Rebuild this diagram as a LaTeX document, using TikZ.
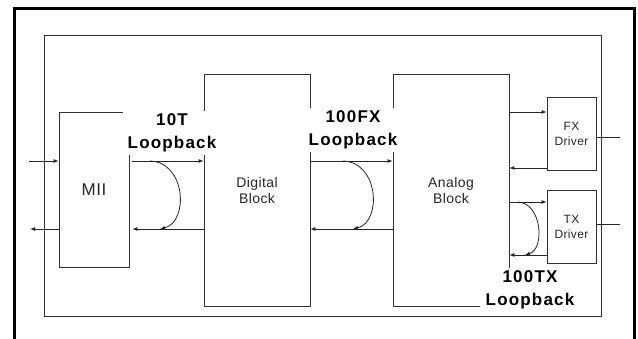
\documentclass[tikz,border=0pt]{standalone}
\usepackage{fontspec}
\setmainfont{Liberation Sans}
\newfontfamily\loopfont{Liberation Sans}[LetterSpace=7]
\newfontfamily\blockfont{Liberation Sans}[LetterSpace=3]
\usetikzlibrary{arrows.meta}

\tikzset{
  blk/.style={draw=black!80, line width=0.8pt, inner sep=0pt, align=center, text=black!85},
  sig/.style={draw=black!85, line width=0.8pt, -{Latex[length=5pt,width=4pt]}},
  loopnote/.style={fill=white, inner xsep=5pt, inner ysep=3pt, align=center,
    font=\loopfont\bfseries\fontsize{17}{23}\selectfont}
}

\begin{document}
\begin{tikzpicture}[x=1pt,y=-1pt]
\useasboundingbox (0,0) rectangle (638,339);

% frames
\draw[line width=3pt] (14.5,339) -- (14.5,8.5) -- (634.5,8.5) -- (634.5,339);
\draw[black!80,line width=0.8pt] (44,35) rectangle (601,316);

% blocks
\node[blk,minimum width=70pt,minimum height=155pt,font=\blockfont\fontsize{17}{20}\selectfont] (mii) at (94,190) {MII};
\node[blk,minimum width=106pt,minimum height=232pt,font=\blockfont\fontsize{14}{16}\selectfont] (dig) at (257,190) {Digital\\Block};
\node[blk,minimum width=116pt,minimum height=232pt,font=\blockfont\fontsize{14}{16}\selectfont] (ana) at (451,190) {Analog\\Block};
\node[blk,minimum width=49pt,minimum height=73pt,font=\blockfont\fontsize{12}{15}\selectfont] (fx) at (571.5,133.5) {FX\\Driver};
\node[blk,minimum width=49pt,minimum height=73pt,font=\blockfont\fontsize{12}{15}\selectfont] (tx) at (571.5,226.5) {TX\\Driver};

% free ends
\coordinate (rxin) at (29,161);
\coordinate (txout) at (30,229);
\coordinate (fxline) at (620,137);
\coordinate (txline) at (620,224);

% signal paths
\draw[sig] (rxin) -- (mii.west |- rxin);
\draw[sig] (mii.west |- txout) -- (txout);
\draw[sig,shorten <=3pt] (mii.east |- 0,161) -- (dig.west |- 0,161);
\draw[sig,shorten >=3pt] (dig.west |- 0,229) -- (mii.east |- 0,229);
\draw[sig] (dig.east |- 0,161) -- (ana.west |- 0,161);
\draw[sig] (ana.west |- 0,229) -- (dig.east |- 0,229);
\draw[sig] (ana.east |- 0,112) -- (fx.west |- 0,112);
\draw[sig] (fx.west |- 0,168) -- (ana.east |- 0,168);
\draw[sig] (ana.east |- 0,202) -- (tx.west |- 0,202);
\draw[sig] (tx.west |- 0,255) -- (ana.east |- 0,255);
\draw[black!85,line width=0.8pt] (fx.east |- fxline) -- (fxline);
\draw[black!85,line width=0.8pt] (tx.east |- txline) -- (txline);

% loopbacks
\coordinate (lpTa) at (150,161);
\coordinate (lpTb) at (160,229);
\coordinate (lpFa) at (343,161);
\coordinate (lpFb) at (353,229);
\coordinate (lpXa) at (518,202);
\coordinate (lpXb) at (525,255);
\draw[sig] (lpTa) .. controls (186,162) and (189,222) .. (lpTb);
\draw[sig] (lpFa) .. controls (379,162) and (382,222) .. (lpFb);
\draw[sig] (lpXa) .. controls (542,203) and (545,249) .. (lpXb);

\node[loopnote] (n10t) at (172,133) {10T\\Loopback};
\node[loopnote] (n100fx) at (353,130) {100FX\\Loopback};
\node[loopnote,inner xsep=6pt] (n100tx) at (530,290) {100TX\\Loopback};
\end{tikzpicture}
\end{document}
